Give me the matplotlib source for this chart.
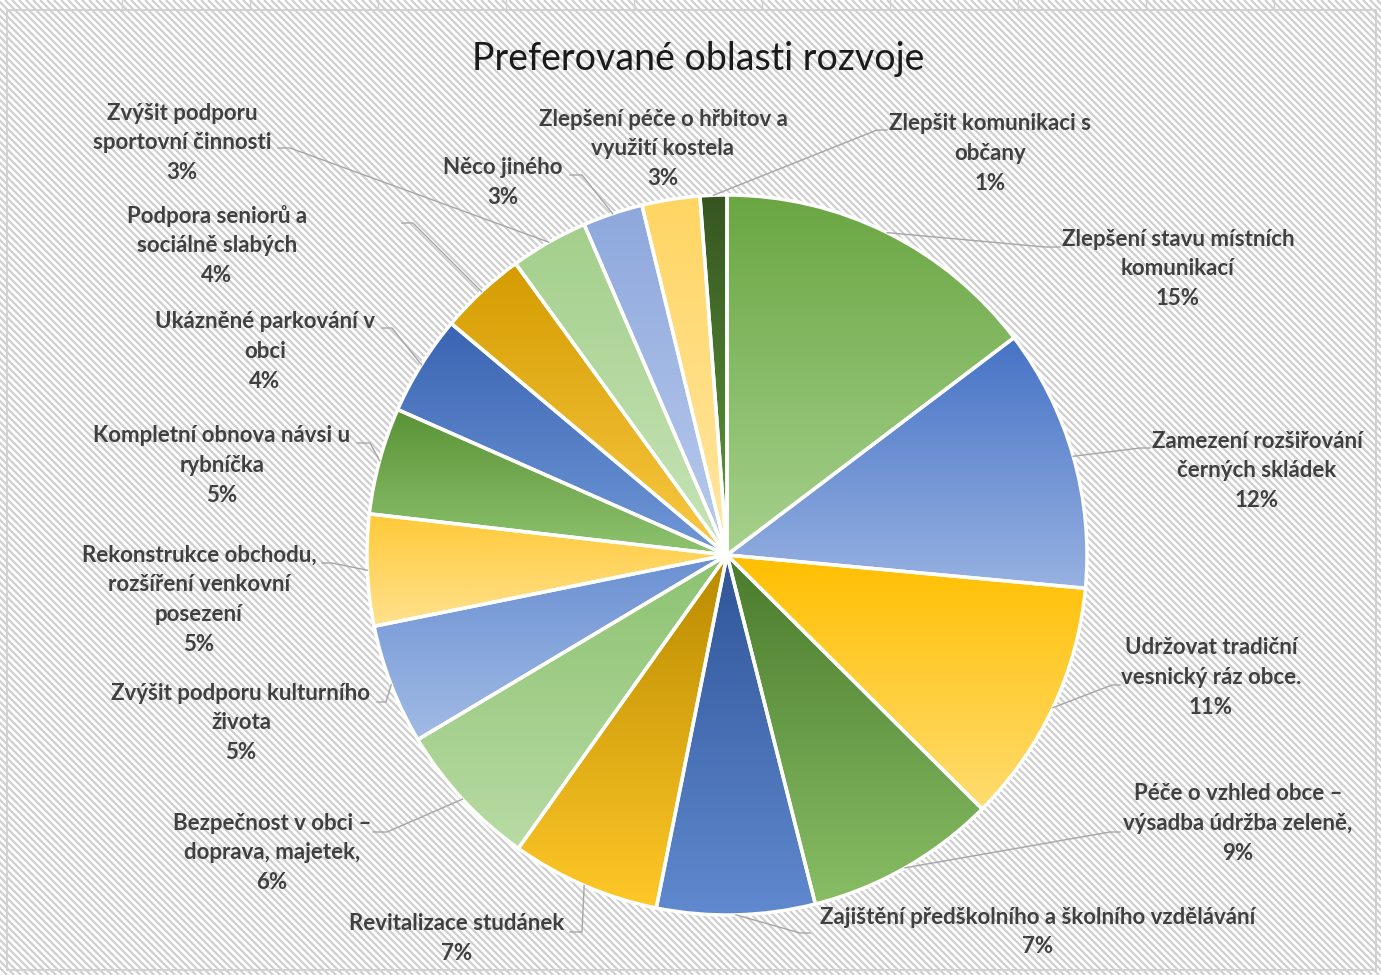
import numpy as np
import matplotlib
matplotlib.use("Agg")
import matplotlib.pyplot as plt
from matplotlib.colors import LinearSegmentedColormap
from matplotlib.collections import LineCollection
from matplotlib.patches import Rectangle

plt.rcParams['font.family'] = ['Lato', 'DejaVu Sans']

# data (clockwise from 12 o'clock)
categories = [
    "Zlepšení stavu místních\nkomunikací",
    "Zamezení rozšiřování\nčerných skládek",
    "Udržovat tradiční\nvesnický ráz obce.",
    "Péče o vzhled obce –\nvýsadba údržba zeleně,",
    "Zajištění předškolního a školního vzdělávání",
    "Revitalizace studánek",
    "Bezpečnost v obci –\ndoprava, majetek,",
    "Zvýšit podporu kulturního\nživota",
    "Rekonstrukce obchodu,\nrozšíření venkovní\nposezení",
    "Kompletní obnova návsi u\nrybníčka",
    "Ukázněné parkování v\nobci",
    "Podpora seniorů a\nsociálně slabých",
    "Zvýšit podporu\nsportovní činnosti",
    "Něco jiného",
    "Zlepšení péče o hřbitov a\nvyužití kostela",
    "Zlepšit komunikaci s\nobčany",
]
values = [14.7, 11.8, 11.0, 8.6, 7.1, 6.7, 6.6, 5.4, 5.0, 4.8, 4.5, 3.9, 3.5, 2.7, 2.6, 1.2]
pct_labels = ["15%", "12%", "11%", "9%", "7%", "7%", "6%", "5%", "5%", "5%", "4%", "4%", "3%", "3%", "3%", "1%"]

# gradient colours (top, bottom) per slice
grad_colors = [
    ("#6aa642", "#a6d18d"),
    ("#4673c6", "#97b1e1"),
    ("#ffbf00", "#ffdc70"),
    ("#4a7a2c", "#88be65"),
    ("#2f5597", "#6089cf"),
    ("#b98a00", "#ffc828"),
    ("#8cc270", "#b8dba5"),
    ("#6a90d2", "#a2bbe5"),
    ("#ffca38", "#ffe18e"),
    ("#5a9336", "#8fc370"),
    ("#3a64b2", "#7098d8"),
    ("#d49c00", "#fac944"),
    ("#a3cf8b", "#c8e4b8"),
    ("#8ea8dd", "#b9cbed"),
    ("#ffd562", "#ffe6a3"),
    ("#365521", "#609c3c"),
]

W, H = 1381, 975
cx, cy, R = 727, 555, 360

def fy(y):
    return H - y

# label layout in pixels: centre x, first line y
label_pos = [
    (1178, 239), (1257, 441), (1211, 648), (1238, 794), (1038, 917), (457, 924),
    (272, 823), (241, 693), (199, 555), (222, 436), (265, 322), (217, 216),
    (182, 113), (503, 168), (663, 119), (990, 124),
]
# leader elbow and end points (pixels), None = no leader
leaders = [
    ((1045, 247), (1060, 247)),
    ((1140, 448), (1150, 448)),
    ((1112, 685), (1120, 685)),
    ((1110, 832), (1120, 832)),
    ((800, 933), (810, 933)),
    ((582, 932), (570, 932)),
    ((387, 832), (373, 832)),
    ((386, 702), (377, 702)),
    ((332, 563), (322, 563)),
    ((370, 443), (357, 443)),
    ((392, 328), (382, 328)),
    ((413, 223), (402, 223)),
    ((290, 148), (278, 148)),
    ((582, 175), (570, 175)),
    None,
    ((877, 130), (887, 130)),
]

fig = plt.figure(figsize=(W / 100, H / 100), dpi=100)
ax = fig.add_axes([0, 0, 1, 1])

# chart area: white with diagonal stripes
x0, y0, x1, y1 = 7, 10, 1376, 970
frame = Rectangle((x0, fy(y1)), x1 - x0, y1 - y0, facecolor='white', edgecolor='#cccccc', lw=1.2, zorder=0)
ax.add_patch(frame)
segs = []
for c in np.arange(-H, W + H, 7.0):
    segs.append([(c, H), (c + H, 0)])
stripes = LineCollection(segs, colors='#cfcfcf', linewidths=1.6, zorder=0.5)
stripes.set_clip_path(frame)
ax.add_collection(stripes)
for gx in np.arange(122.5, W, 128):
    ax.plot([gx, gx], [H, fy(y0)], color='#d0d0d0', lw=1, zorder=0.5)

wedges, _ = ax.pie(values, startangle=90, counterclock=False, center=(cx, fy(cy)), radius=R,
                   wedgeprops=dict(edgecolor='white', linewidth=2.5), frame=True)

grad = np.linspace(0, 1, 256).reshape(-1, 1)
for w, (ctop, cbot) in zip(wedges, grad_colors):
    ext = w.get_path().get_extents()
    cmap = LinearSegmentedColormap.from_list('g', [cbot, ctop])
    im = ax.imshow(grad, cmap=cmap, extent=[ext.x0, ext.x1, ext.y0, ext.y1], origin='lower',
                   aspect='auto', interpolation='bilinear', zorder=1)
    im.set_clip_path(w)
    w.set_facecolor('none')
    w.set_zorder(2)

ax.set_xlim(0, W)
ax.set_ylim(0, H)
ax.set_aspect('auto')
ax.axis('off')

# labels and leader lines
for w, cat, pct, (lx, ly), ld in zip(wedges, categories, pct_labels, label_pos, leaders):
    lines = cat.split("\n") + [pct]
    for i, t in enumerate(lines):
        ax.text(lx, fy(ly + i * 29.7), t, ha='center', va='center', fontsize=16,
                fontweight='bold', color='#404040', zorder=5)
    if ld is not None:
        mid = np.deg2rad((w.theta1 + w.theta2) / 2)
        sx = cx + R * np.cos(mid)
        sy = fy(cy) + R * np.sin(mid)
        (ex, ey), (tx, ty) = ld
        ax.plot([sx, ex, tx], [sy, fy(ey), fy(ty)], color='#a6a6a6', lw=1, zorder=4)

ax.text(698, fy(59), "Preferované oblasti rozvoje", ha='center', va='center', fontsize=27, color='#1a1a1a', zorder=5)

fig.savefig("out.png", dpi=100)
